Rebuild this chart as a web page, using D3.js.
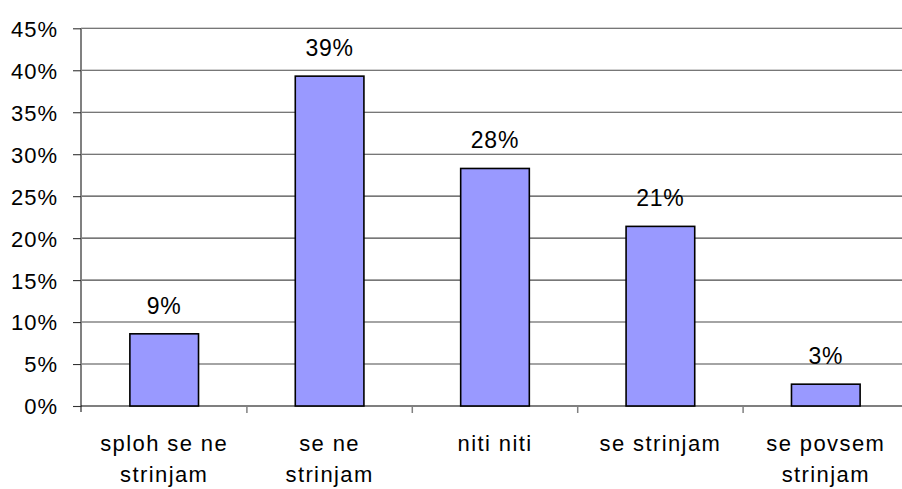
<!DOCTYPE html>
<html>
<head>
<meta charset="utf-8">
<script src="https://cdn.jsdelivr.net/npm/d3@7"></script>
<style>
  html, body { margin: 0; padding: 0; background: #fff; }
  svg { display: block; }
  text { font-family: "Liberation Sans", Arial, sans-serif; fill: #000; }
</style>
</head>
<body>
<svg id="chart" width="902" height="489"></svg>
<script>
// Answer categories (line breaks mark how the axis labels wrap)
const categories = [
  "sploh se ne\nstrinjam",
  "se ne\nstrinjam",
  "niti niti",
  "se strinjam",
  "se povsem\nstrinjam"
];
// Share of responses, in percent
const shares = [8.6, 39.3, 28.3, 21.4, 2.6];
// Value-axis ticks, in percent
const yTicks = [0, 5, 10, 15, 20, 25, 30, 35, 40, 45];

const svg = d3.select("#chart");
const W = 902, H = 489;

const x = d3.scaleBand()
  .domain(categories)
  .range([81.5, 908.5])
  .paddingInner(0)
  .paddingOuter(0);

const y = d3.scaleLinear()
  .domain([0, 45])
  .range([406, 28.3]);

const pct = v => d3.format(".0f")(v) + "%";

// Horizontal gridlines
svg.append("g")
  .selectAll("line")
  .data(yTicks.filter(t => t > 0))
  .join("line")
  .attr("x1", 81).attr("x2", W)
  .attr("y1", d => y(d)).attr("y2", d => y(d))
  .attr("stroke", "#4a4a4a")
  .attr("stroke-width", 1.1);

// Value axis: line, tick marks and labels
const yAxis = d3.axisLeft(y)
  .tickValues(yTicks)
  .tickSize(8)
  .tickPadding(15)
  .tickFormat(d => d + "%");

const gy = svg.append("g")
  .attr("transform", "translate(81,0)")
  .call(yAxis);
gy.select(".domain")
  .attr("d", `M0,${y(45)}V${y(0) + 6}`)
  .attr("stroke", "#808080")
  .attr("stroke-width", 2);
gy.selectAll(".tick line").attr("stroke", "#333").attr("stroke-width", 1.1);
gy.selectAll(".tick text")
  .style("font-family", "'Liberation Sans', Arial, sans-serif")
  .style("font-size", "22px")
  .style("letter-spacing", "1px")
  .attr("dy", "0.36em")
  .attr("fill", "#000");

// Category axis: baseline and band-boundary ticks
const gx = svg.append("g")
  .attr("transform", `translate(0,${y(0)})`)
  .call(d3.axisBottom(x).tickSize(0).tickFormat(""));
gx.select(".domain")
  .attr("d", `M81,0H${W}`)
  .attr("stroke", "#000")
  .attr("stroke-width", 1.2);

svg.append("g")
  .selectAll("line")
  .data(categories.slice(1))
  .join("line")
  .attr("x1", d => x(d)).attr("x2", d => x(d))
  .attr("y1", y(0)).attr("y2", y(0) + 7)
  .attr("stroke", "#808080")
  .attr("stroke-width", 1.5);

// Bars
const barW = x.bandwidth() * 0.415;
svg.append("g")
  .selectAll("rect")
  .data(categories.map((c, i) => ({ c, v: shares[i] })))
  .join("rect")
  .attr("x", d => x(d.c) + (x.bandwidth() - barW) / 2)
  .attr("y", d => y(d.v))
  .attr("width", barW)
  .attr("height", d => y(0) - y(d.v))
  .attr("fill", "#9999FF")
  .attr("stroke", "#000")
  .attr("stroke-width", 1.6);

// Value labels above bars
svg.append("g")
  .selectAll("text")
  .data(categories.map((c, i) => ({ c, v: shares[i] })))
  .join("text")
  .attr("x", d => x(d.c) + x.bandwidth() / 2)
  .attr("y", d => y(d.v) - 20)
  .attr("text-anchor", "middle")
  .style("font-size", "23px")
  .style("letter-spacing", "0.8px")
  .text(d => pct(d.v));

// Category labels, wrapped onto lines
const cl = svg.append("g")
  .selectAll("text")
  .data(categories)
  .join("text")
  .attr("x", d => x(d) + x.bandwidth() / 2)
  .attr("y", 451)
  .attr("text-anchor", "middle")
  .style("font-size", "22px")
  .style("letter-spacing", "1.4px");
cl.each(function(d) {
  const t = d3.select(this);
  d.split("\n").forEach((line, i) => {
    t.append("tspan")
      .attr("x", x(d) + x.bandwidth() / 2)
      .attr("dy", i === 0 ? 0 : 31)
      .text(line);
  });
});
</script>
</body>
</html>
